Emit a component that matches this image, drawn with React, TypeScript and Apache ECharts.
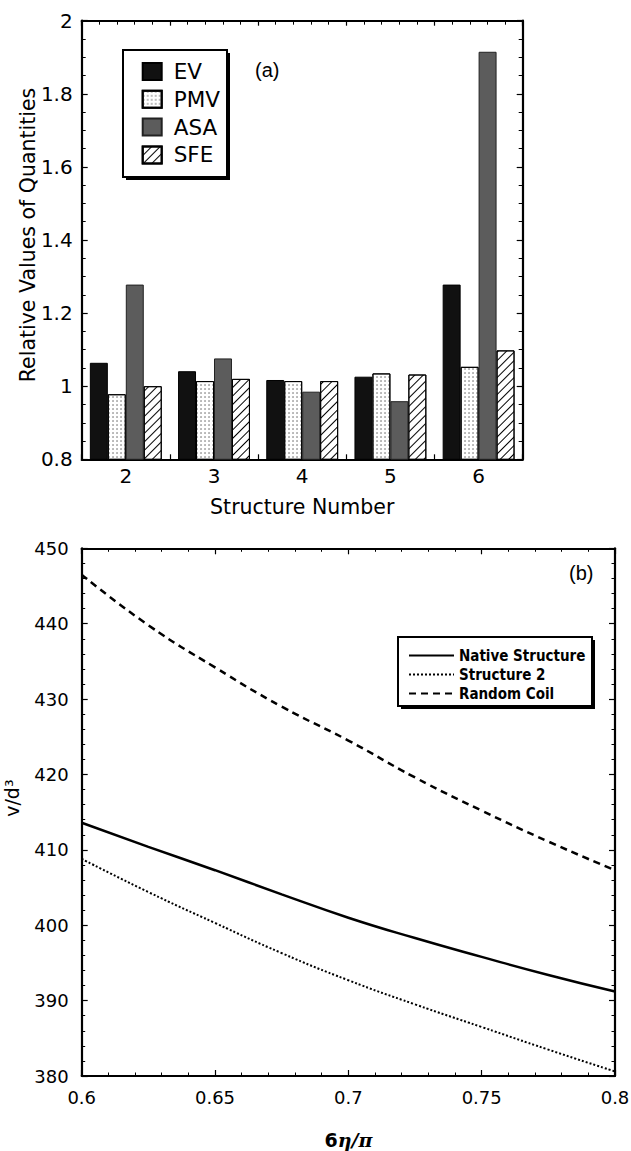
import React, { useEffect, useRef } from "react";
import * as echarts from "echarts";

// ---------- Panel (a) data ----------
const structureNumbers = ["2", "3", "4", "5", "6"];
const evValues = [1.064, 1.041, 1.017, 1.026, 1.278];
const pmvValues = [0.978, 1.014, 1.014, 1.035, 1.053];
const asaValues = [1.278, 1.076, 0.985, 0.959, 1.915];
const sfeValues = [1.0, 1.02, 1.014, 1.032, 1.098];

// ---------- Panel (b) data ----------
const etaValues = [0.6, 0.625, 0.65, 0.675, 0.7, 0.725, 0.75, 0.775, 0.8];
const nativeStructure = [413.6, 410.4, 407.3, 404.1, 401.0, 398.3, 395.8, 393.4, 391.2];
const structure2 = [408.8, 404.4, 400.3, 396.3, 392.7, 389.5, 386.5, 383.5, 380.6];
const randomCoil = [446.5, 439.8, 434.2, 429.0, 424.5, 419.6, 415.2, 411.1, 407.3];

const SANS = "DejaVu Sans";

export default function App() {
  const ref = useRef<HTMLDivElement>(null);

  useEffect(() => {
    if (!ref.current) return;
    const chart = echarts.init(ref.current, null, { renderer: "svg" });

    const frameLine = { show: true, lineStyle: { color: "#000", width: 2.2 } };
    const tickIn = (len: number) => ({ show: true, inside: true, length: len, lineStyle: { color: "#000", width: 1.2 } });
    const minorIn = (n: number, len: number) => ({ show: true, splitNumber: n, length: len, lineStyle: { color: "#000", width: 1 } });
    const pair = (ys: number[]) => etaValues.map((x, i) => [x, ys[i]]);

    const option: any = {
      animation: false,
      backgroundColor: "#fff",
      grid: [
        { left: 81.7, top: 20.7, width: 441, height: 438.6, containLabel: false, outerBoundsMode: "none" },
        { left: 81.7, top: 548.3, width: 533.3, height: 527.7, containLabel: false, outerBoundsMode: "none" },
      ],
      xAxis: [
        {
          gridIndex: 0,
          type: "category",
          data: structureNumbers,
          position: "bottom",
          axisLine: frameLine,
          axisTick: tickIn(5),
          axisLabel: { color: "#000", fontSize: 20, fontFamily: SANS, margin: 7 },
          name: "Structure Number",
          nameLocation: "middle",
          nameGap: 37,
          nameMoveOverlap: false,
          nameTextStyle: { color: "#000", fontSize: 20.5, fontFamily: SANS },
        },
        {
          gridIndex: 0,
          type: "value",
          position: "top",
          min: 0,
          max: 5,
          interval: 1,
          axisLine: frameLine,
          axisTick: tickIn(5),
          minorTick: minorIn(5, 4),
          axisLabel: { show: false },
          splitLine: { show: false },
        },
        {
          gridIndex: 1,
          type: "value",
          position: "bottom",
          min: 0.6,
          max: 0.8,
          interval: 0.05,
          axisLine: frameLine,
          axisTick: tickIn(6),
          minorTick: minorIn(5, 3.5),
          axisLabel: {
            color: "#000",
            fontSize: 18,
            fontFamily: SANS,
            margin: 12,
            formatter: (v: number) => String(Math.round(v * 100) / 100),
          },
          splitLine: { show: false },
          name: "{a|6}{b|η/π}",
          nameLocation: "middle",
          nameGap: 54,
          nameMoveOverlap: false,
          nameTextStyle: {
            rich: {
              a: { fontFamily: SANS, fontWeight: "bold", fontSize: 19, color: "#000" },
              b: { fontFamily: "DejaVu Serif", fontStyle: "italic", fontWeight: "bold", fontSize: 19, color: "#000" },
            },
          },
        },
        {
          gridIndex: 1,
          type: "value",
          position: "top",
          min: 0.6,
          max: 0.8,
          interval: 0.05,
          axisLine: frameLine,
          axisTick: tickIn(6),
          minorTick: minorIn(5, 3.5),
          axisLabel: { show: false },
          splitLine: { show: false },
        },
      ],
      yAxis: [
        {
          gridIndex: 0,
          type: "value",
          position: "left",
          min: 0.8,
          max: 2,
          interval: 0.2,
          axisLine: frameLine,
          axisTick: tickIn(6),
          minorTick: minorIn(4, 4),
          axisLabel: {
            color: "#000",
            fontSize: 20,
            fontFamily: SANS,
            margin: 9,
            formatter: (v: number) => String(Math.round(v * 10) / 10),
          },
          splitLine: { show: false },
          name: "Relative Values of Quantities",
          nameLocation: "middle",
          nameGap: 43,
          nameMoveOverlap: false,
          nameTextStyle: { color: "#000", fontSize: 20.5, fontFamily: SANS, padding: [0, 0, 0, 10] },
        },
        {
          gridIndex: 0,
          type: "value",
          position: "right",
          min: 0.8,
          max: 2,
          interval: 0.2,
          axisLine: frameLine,
          axisTick: tickIn(6),
          minorTick: minorIn(4, 4),
          axisLabel: { show: false },
          splitLine: { show: false },
        },
        {
          gridIndex: 1,
          type: "value",
          position: "left",
          min: 380,
          max: 450,
          interval: 10,
          axisLine: frameLine,
          axisTick: tickIn(6),
          minorTick: minorIn(5, 3.5),
          axisLabel: { color: "#000", fontSize: 18, fontFamily: SANS, margin: 13 },
          splitLine: { show: false },
          name: "v/d³",
          nameLocation: "middle",
          nameGap: 60,
          nameMoveOverlap: false,
          nameTextStyle: { color: "#000", fontSize: 19, fontFamily: SANS, padding: [0, 0, 0, 28] },
        },
        {
          gridIndex: 1,
          type: "value",
          position: "right",
          min: 380,
          max: 450,
          interval: 10,
          axisLine: frameLine,
          axisTick: tickIn(6),
          minorTick: minorIn(5, 3.5),
          axisLabel: { show: false },
          splitLine: { show: false },
        },
      ],
      legend: [
        {
          data: ["EV", "PMV", "ASA", "SFE"],
          orient: "vertical",
          left: 141.7,
          top: 60.5,
          padding: 0,
          itemWidth: 19,
          itemHeight: 17,
          itemGap: 5.8,
          icon: "rect",
          selectedMode: false,
          z: 10,
          textStyle: { color: "#000", fontSize: 21.5, fontFamily: SANS, padding: [0, 0, 0, 7] },
        },
        {
          data: ["Native Structure", "Structure 2", "Random Coil"],
          orient: "vertical",
          left: 408,
          top: 648,
          padding: 0,
          itemWidth: 45,
          itemHeight: 10,
          itemGap: 4,
          selectedMode: false,
          z: 10,
          itemStyle: { opacity: 0 },
          textStyle: { color: "#000", fontSize: 15, fontFamily: "DejaVu Sans Condensed", fontWeight: "bold", lineHeight: 14.5 },
        },
      ],
      graphic: [
        { type: "rect", z: 1, shape: { x: 126, y: 53, width: 104, height: 127 }, style: { fill: "#000" } },
        { type: "rect", z: 2, shape: { x: 123, y: 50, width: 104, height: 127 }, style: { fill: "#fff", stroke: "#000", lineWidth: 2 } },
        { type: "text", z: 3, x: 255, y: 60, style: { text: "(a)", fontSize: 20, fontFamily: "Liberation Sans", fill: "#000" } },
        { type: "rect", z: 1, shape: { x: 401, y: 640, width: 194, height: 69 }, style: { fill: "#000" } },
        { type: "rect", z: 2, shape: { x: 398, y: 637, width: 194, height: 69 }, style: { fill: "#fff", stroke: "#000", lineWidth: 2 } },
        { type: "text", z: 3, x: 569, y: 563, style: { text: "(b)", fontSize: 20, fontFamily: "Liberation Sans", fill: "#000" } },
      ],
      series: [
        {
          name: "EV",
          type: "bar",
          xAxisIndex: 0,
          yAxisIndex: 0,
          data: evValues,
          barGap: "0%",
          barCategoryGap: "18.5%",
          itemStyle: { color: "#111", borderColor: "#000", borderWidth: 1 },
        },
        {
          name: "PMV",
          type: "bar",
          xAxisIndex: 0,
          yAxisIndex: 0,
          data: pmvValues,
          barGap: "0%",
          barCategoryGap: "18.5%",
          itemStyle: {
            color: "#fff",
            borderColor: "#000",
            borderWidth: 1,
            decal: { symbol: "circle", symbolSize: 0.7, color: "#555", dashArrayX: [2, 2], dashArrayY: [2, 2] },
          },
        },
        {
          name: "ASA",
          type: "bar",
          xAxisIndex: 0,
          yAxisIndex: 0,
          data: asaValues,
          barGap: "0%",
          barCategoryGap: "18.5%",
          itemStyle: { color: "#5c5c5c", borderColor: "#222", borderWidth: 1 },
        },
        {
          name: "SFE",
          type: "bar",
          xAxisIndex: 0,
          yAxisIndex: 0,
          data: sfeValues,
          barGap: "0%",
          barCategoryGap: "18.5%",
          itemStyle: {
            color: "#fff",
            borderColor: "#000",
            borderWidth: 1,
            decal: { symbol: "rect", symbolSize: 1, color: "#000", dashArrayX: [1, 0], dashArrayY: [1, 5], rotation: -Math.PI / 4 },
          },
        },
        {
          name: "Native Structure",
          type: "line",
          xAxisIndex: 2,
          yAxisIndex: 2,
          data: pair(nativeStructure),
          smooth: true,
          symbol: "none",
          lineStyle: { color: "#000", width: 2.5, type: "solid" },
          itemStyle: { color: "#000" },
        },
        {
          name: "Structure 2",
          type: "line",
          xAxisIndex: 2,
          yAxisIndex: 2,
          data: pair(structure2),
          smooth: true,
          symbol: "none",
          lineStyle: { color: "#000", width: 2, type: [2, 2] },
          itemStyle: { color: "#000" },
        },
        {
          name: "Random Coil",
          type: "line",
          xAxisIndex: 2,
          yAxisIndex: 2,
          data: pair(randomCoil),
          smooth: true,
          symbol: "none",
          lineStyle: { color: "#000", width: 2.5, type: [7, 5] },
          itemStyle: { color: "#000" },
        },
      ],
    };

    chart.setOption(option);
    return () => chart.dispose();
  }, []);

  return (
    <div
      ref={ref}
      style={{ position: "absolute", left: 0, top: 0, width: 631, height: 1151, background: "#fff" }}
    />
  );
}
